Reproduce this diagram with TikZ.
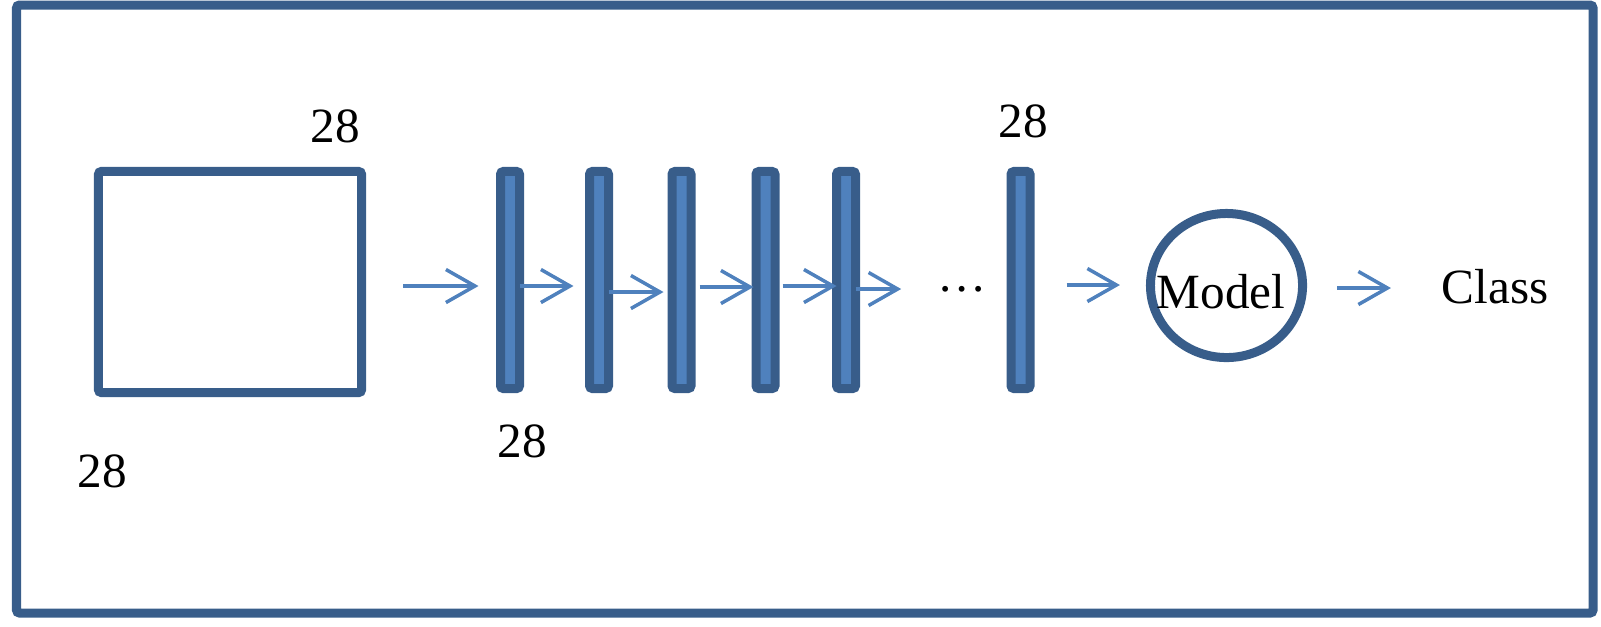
\documentclass[tikz,border=0pt]{standalone}
\usepackage{fontspec}
\setmainfont{Liberation Serif}
\usepackage{tikz}
\usepackage{xcolor}
\usetikzlibrary{arrows.meta,shapes.geometric}
\definecolor{netdark}{RGB}{56,93,138}
\definecolor{netblue}{RGB}{79,129,189}

\begin{document}
\begin{tikzpicture}[x=0.01cm, y=-0.01cm,
    bar/.style={draw=netdark, fill=netblue, line width=0.9mm, rounded corners=0.3mm,
        minimum width=1.9mm, minimum height=2.17cm, inner sep=0, outer sep=0},
    arr/.style={netblue, line width=0.35mm, -{Straight Barb[length=2.9mm, width=3.3mm]}},
    lbl/.style={font=\fontsize{14}{17}\selectfont, inner sep=0, anchor=base}]
    \useasboundingbox (0,0) rectangle (1601,626);
    % outer frame
    \draw[netdark, line width=0.9mm, rounded corners=0.3mm] (16.5,5) rectangle (1593,613);

    % input image 28 x 28
    \node[draw=netdark, line width=0.9mm, rounded corners=0.3mm, minimum width=2.63cm,
        minimum height=2.21cm, inner sep=0, outer sep=0] (img) at (230,282) {};
    \node[lbl] (imgtop) at (335.5,142) {28};
    \node[lbl] (imgside) at (102.5,487) {28};

    % rows of the image
    \foreach \i/\x in {1/510, 2/599, 3/681.5, 4/765.5, 5/846, 6/1020.5}
        \node[bar] (row\i) at (\x,280) {};
    \node[lbl] (rowlen) at (522,457) {28};
    \node[lbl] (rowcount) at (1023.5,137) {28};
    \node[lbl] (rowdots) at (962,291) {…};

    % model and output
    \node[draw=netdark, line width=0.9mm, ellipse, minimum width=1.52cm,
        minimum height=1.44cm, inner sep=0, outer sep=0] (model) at (1226.5,285.5) {};
    \node[lbl] (modeltxt) at (1221,308) {Model};
    \node[lbl] (cls) at (1495,303) {Class};

    % arrows
    \foreach \a/\b/\s/\e/\y in {img/row1/4.15mm/2.2mm/286, row1/row2/0mm/1.6mm/286,
        row2/row3/0mm/0.85mm/292, row3/row4/0.85mm/0.25mm/287, row4/row5/0.75mm/0mm/286,
        row5/rowdots/0mm/3.55mm/289, row6/model/3.65mm/3.05mm/285, model/cls/3.45mm/5mm/288}
        \draw[arr, shorten <=\s, shorten >=\e] (\a.east |- 0,\y) -- (\b.west |- 0,\y);
\end{tikzpicture}
\end{document}
